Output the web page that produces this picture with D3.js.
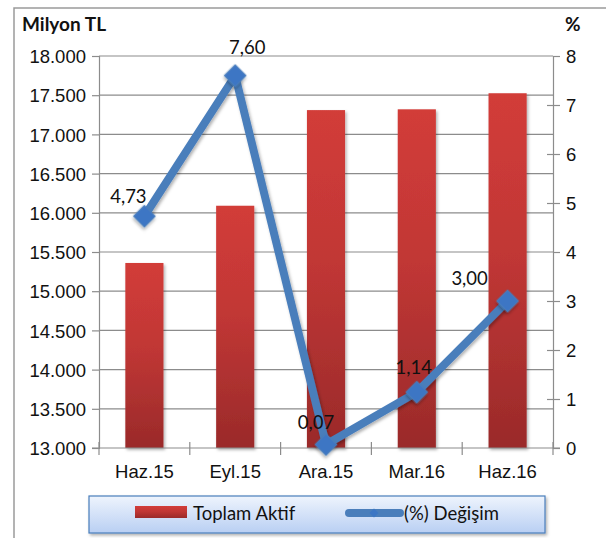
<!DOCTYPE html>
<html>
<head>
<meta charset="utf-8">
<script src="https://cdn.jsdelivr.net/npm/d3@7"></script>
<style>
  html, body { margin: 0; padding: 0; background: #fff; }
  svg { display: block; font-family: Lato, "Open Sans", sans-serif; }
</style>
</head>
<body>
<div id="chart"></div>
<script>
// Values
const categories = ["Haz.15", "Eyl.15", "Ara.15", "Mar.16", "Haz.16"];
const totalAssets = [15360, 16090, 17310, 17320, 17525];   // Milyon TL
const pctChange = [4.73, 7.60, 0.07, 1.14, 3.00];            // %
const leftTicks = [13000, 13500, 14000, 14500, 15000, 15500, 16000, 16500, 17000, 17500, 18000];
const rightTicks = [0, 1, 2, 3, 4, 5, 6, 7, 8];

// label placement relative to each point (styling only)
const labelOffsets = [[-16, -20], [12, -28], [-10, -22], [-3, -25], [-38, -23]];

const W = 606, H = 538;
const plot = { left: 99, right: 553, top: 56, bottom: 448 };
const FS = 18.5;

const svg = d3.select("#chart").append("svg").attr("width", W).attr("height", H);
const defs = svg.append("defs");

const barGrad = defs.append("linearGradient").attr("id", "barGrad").attr("x1", 0).attr("x2", 0).attr("y1", 0).attr("y2", 1);
barGrad.append("stop").attr("offset", "0%").attr("stop-color", "#d23c39");
barGrad.append("stop").attr("offset", "45%").attr("stop-color", "#c13735");
barGrad.append("stop").attr("offset", "100%").attr("stop-color", "#9a2a2a");

const legGrad = defs.append("linearGradient").attr("id", "legGrad").attr("x1", 0).attr("x2", 0).attr("y1", 0).attr("y2", 1);
legGrad.append("stop").attr("offset", "0%").attr("stop-color", "#eef4fd");
legGrad.append("stop").attr("offset", "100%").attr("stop-color", "#b9cff3");

const shadow = defs.append("filter").attr("id", "shadow").attr("x", "-30%").attr("y", "-30%").attr("width", "160%").attr("height", "160%");
shadow.append("feDropShadow").attr("dx", 1.5).attr("dy", 2).attr("stdDeviation", 1.5).attr("flood-color", "#000").attr("flood-opacity", 0.3);

// outer frame (cropped chart area)
svg.append("path").attr("d", `M14,${H} L14,8 L${W},8`).attr("fill", "none").attr("stroke", "#9a9a9a").attr("stroke-width", 1.5);

const x = d3.scaleBand().domain(categories).range([plot.left, plot.right]).paddingInner(0.58).paddingOuter(0.29);
const xOuter = d3.scaleBand().domain(categories).range([plot.left, plot.right]);
const yL = d3.scaleLinear().domain([13000, 18000]).range([plot.bottom, plot.top]);
const yR = d3.scaleLinear().domain([0, 8]).range([plot.bottom, plot.top]);

const fmt = d3.format(",.0f");
const trNum = (v) => fmt(v).replace(/,/g, ".");

// gridlines
svg.append("g").selectAll("line").data(leftTicks.slice(1)).join("line")
  .attr("x1", plot.left).attr("x2", plot.right)
  .attr("y1", (d) => yL(d)).attr("y2", (d) => yL(d))
  .attr("stroke", "#8c8c8c").attr("stroke-width", 1.2);

// left axis
const gL = svg.append("g").attr("transform", `translate(${plot.left},0)`)
  .call(d3.axisLeft(yL).tickValues(leftTicks).tickFormat(trNum).tickSize(7).tickPadding(6));
gL.select(".domain").attr("stroke", "#8c8c8c").attr("stroke-width", 1.2);
gL.selectAll(".tick line").attr("stroke", "#8c8c8c").attr("stroke-width", 1.2);
gL.selectAll("text").attr("font-size", FS).attr("fill", "#111").attr("dy", "0.36em");

// right axis
const gR = svg.append("g").attr("transform", `translate(${plot.right},0)`)
  .call(d3.axisRight(yR).tickValues(rightTicks).tickSize(7).tickPadding(6));
gR.select(".domain").attr("stroke", "#8c8c8c").attr("stroke-width", 1.2);
gR.selectAll(".tick line").attr("stroke", "#8c8c8c").attr("stroke-width", 1.2)
  .attr("x1", (d) => (d % 4 === 0 ? 0 : -6));
gR.selectAll("text").attr("font-size", FS).attr("fill", "#111").attr("dy", "0.36em");

// bars
svg.append("g").selectAll("rect").data(totalAssets).join("rect")
  .attr("x", (d, i) => x(categories[i]))
  .attr("width", x.bandwidth())
  .attr("y", (d) => yL(d))
  .attr("height", (d) => yL(13000) - yL(d))
  .attr("fill", "url(#barGrad)")
  .attr("filter", "url(#shadow)");

// bottom axis
const gB = svg.append("g").attr("transform", `translate(0,${plot.bottom})`)
  .call(d3.axisBottom(xOuter).tickSize(0).tickPadding(17));
gB.select(".domain").remove();
gB.selectAll("text").attr("font-size", FS).attr("fill", "#111");
svg.append("line").attr("x1", plot.left - 7).attr("x2", plot.right + 7)
  .attr("y1", plot.bottom).attr("y2", plot.bottom)
  .attr("stroke", "#8c8c8c").attr("stroke-width", 1.2);
const bounds = categories.map((c) => xOuter(c)).concat([plot.right]);
svg.append("g").selectAll("line").data(bounds).join("line")
  .attr("x1", (d) => d).attr("x2", (d) => d)
  .attr("y1", plot.bottom - 6).attr("y2", plot.bottom + 7)
  .attr("stroke", "#8c8c8c").attr("stroke-width", 1.2);

// line series
const cx = (i) => xOuter(categories[i]) + xOuter.bandwidth() / 2;
const line = d3.line().x((d, i) => cx(i)).y((d) => yR(d));
svg.append("path").datum(pctChange).attr("d", line)
  .attr("fill", "none").attr("stroke", "#4a7ebb").attr("stroke-width", 8)
  .attr("stroke-linejoin", "round").attr("filter", "url(#shadow)");

const diamond = d3.symbol().type(d3.symbolSquare).size(240);
svg.append("g").selectAll("path").data(pctChange).join("path")
  .attr("d", diamond)
  .attr("transform", (d, i) => `translate(${cx(i)},${yR(d)}) rotate(45)`)
  .attr("fill", "#3c76c4").attr("stroke", "#4a7ebb").attr("stroke-width", 1)
  .attr("filter", "url(#shadow)");

svg.append("g").selectAll("text").data(pctChange).join("text")
  .attr("x", (d, i) => cx(i) + labelOffsets[i][0])
  .attr("y", (d, i) => yR(d) + labelOffsets[i][1])
  .attr("text-anchor", "middle").attr("dy", "0.36em")
  .attr("font-size", FS).attr("fill", "#111")
  .text((d) => d3.format(".2f")(d).replace(".", ","));

// axis titles
svg.append("text").attr("x", 22).attr("y", 31).attr("font-size", 19).attr("font-weight", "bold").attr("fill", "#111").text("Milyon TL");
svg.append("text").attr("x", 565).attr("y", 31).attr("font-size", 19).attr("font-weight", "bold").attr("fill", "#111").text("%");

// legend
const leg = svg.append("g");
leg.append("rect").attr("x", 89).attr("y", 496).attr("width", 456).attr("height", 37)
  .attr("fill", "url(#legGrad)").attr("stroke", "#4a7ebb").attr("stroke-width", 1.2)
  .attr("filter", "url(#shadow)");
leg.append("rect").attr("x", 135).attr("y", 506).attr("width", 52).attr("height", 12).attr("fill", "url(#barGrad)");
leg.append("text").attr("x", 193).attr("y", 513).attr("dy", "0.36em").attr("font-size", FS).attr("fill", "#111").text("Toplam Aktif");
leg.append("line").attr("x1", 349).attr("x2", 400).attr("y1", 513).attr("y2", 513)
  .attr("stroke", "#4a7ebb").attr("stroke-width", 8).attr("stroke-linecap", "round");
leg.append("path").attr("d", d3.symbol().type(d3.symbolSquare).size(40))
  .attr("transform", "translate(374,513) rotate(45)").attr("fill", "#3c76c4");
leg.append("text").attr("x", 404).attr("y", 513).attr("dy", "0.36em").attr("font-size", FS).attr("fill", "#111").text("(%) Değişim");
</script>
</body>
</html>
